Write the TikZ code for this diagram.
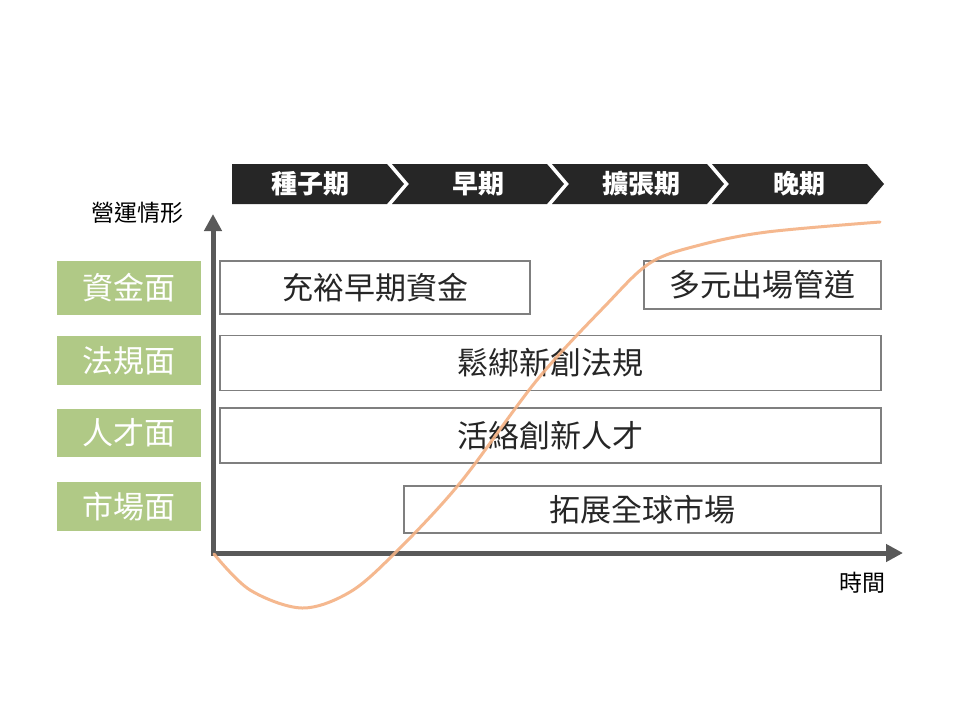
\documentclass[tikz,border=0pt]{standalone}
\usepackage{fontspec}
\setmainfont{Noto Sans CJK TC}
\usetikzlibrary{arrows.meta}
\definecolor{chev}{HTML}{262626}
\definecolor{lblgreen}{HTML}{B0C986}
\definecolor{axisgray}{HTML}{595959}
\definecolor{boxgray}{HTML}{7F7F7F}
\definecolor{curveorange}{HTML}{F4B183}
\definecolor{txt}{HTML}{262626}
\tikzset{
  chevshape/.style={fill=chev, draw=none},
  chevtext/.style={text=white, font=\fontsize{26}{26}\selectfont\bfseries, inner sep=0pt},
  lbl/.style={fill=lblgreen, text=white, font=\fontsize{31}{31}\selectfont, minimum width=144pt, inner sep=0pt, anchor=center},
  itembox/.style={draw=boxgray, line width=1.5pt, fill=white, text=txt, font=\fontsize{31}{31}\selectfont, inner sep=0pt},
  axisline/.style={draw=axisgray, line width=5pt, -{Triangle[width=17pt,length=17pt]}},
  axlabel/.style={text=black, font=\fontsize{23}{23}\selectfont, inner sep=0pt},
  growth/.style={draw=curveorange, line width=3pt, opacity=0.9, line cap=round}
}
\begin{document}
\begin{tikzpicture}[x=1pt,y=-1pt]
\useasboundingbox[fill=white] (0,0) rectangle (960,720);

% chevrons
\fill[chevshape] (232,164) -- (387,164) -- (404,184) -- (387,204) -- (232,204) -- cycle;
\fill[chevshape] (392,164) -- (547,164) -- (564,184) -- (547,204) -- (392,204) -- (409,184) -- cycle;
\fill[chevshape] (552,164) -- (707,164) -- (724,184) -- (707,204) -- (552,204) -- (569,184) -- cycle;
\fill[chevshape] (712,164) -- (867,164) -- (884,184) -- (867,204) -- (712,204) -- (729,184) -- cycle;
\node[chevtext] (c1) at (310,184) {種子期};
\node[chevtext] (c2) at (478,184) {早期};
\node[chevtext] (c3) at (641,184) {擴張期};
\node[chevtext] (c4) at (799,184) {晚期};

% left labels
\node[lbl, minimum height=54pt] (l1) at (129,287.5) {資金面};
\node[lbl, minimum height=49pt] (l2) at (129,360.5) {法規面};
\node[lbl, minimum height=48pt] (l3) at (129,433) {人才面};
\node[lbl, minimum height=49pt] (l4) at (129,506.5) {市場面};

% item boxes
\node[itembox, minimum width=310pt, minimum height=53pt] (b1) at (375,287.5) {充裕早期資金};
\node[itembox, minimum width=237pt, minimum height=48pt] (b2) at (762.5,285) {多元出場管道};
\node[itembox, minimum width=661pt, minimum height=55pt] (b3) at (550.5,363) {鬆綁新創法規};
\node[itembox, minimum width=661pt, minimum height=55pt] (b4) at (550.5,435.5) {活絡創新人才};
\node[itembox, minimum width=477pt, minimum height=47pt] (b5) at (642.5,509.5) {拓展全球市場};

% axes
\coordinate (o) at (213,553);
\coordinate (ytip) at (213,214);
\coordinate (xtip) at (903,553);
\draw[axisline] ([yshift=2.5pt]o) -- (ytip);
\draw[axisline] ([xshift=-2.5pt]o) -- (xtip);
\node[axlabel] (ylab) at (137,213) {營運情形};
\node[axlabel] (xlab) at (862,583) {時間};

% growth curve
\draw[growth] plot[smooth, tension=0.55] coordinates {(214,554) (250,590) (302,608) (350,592) (395,553) (460,483) (537,380) (605,306) (650,263) (700,245) (767,232) (880,222)};
\end{tikzpicture}
\end{document}
